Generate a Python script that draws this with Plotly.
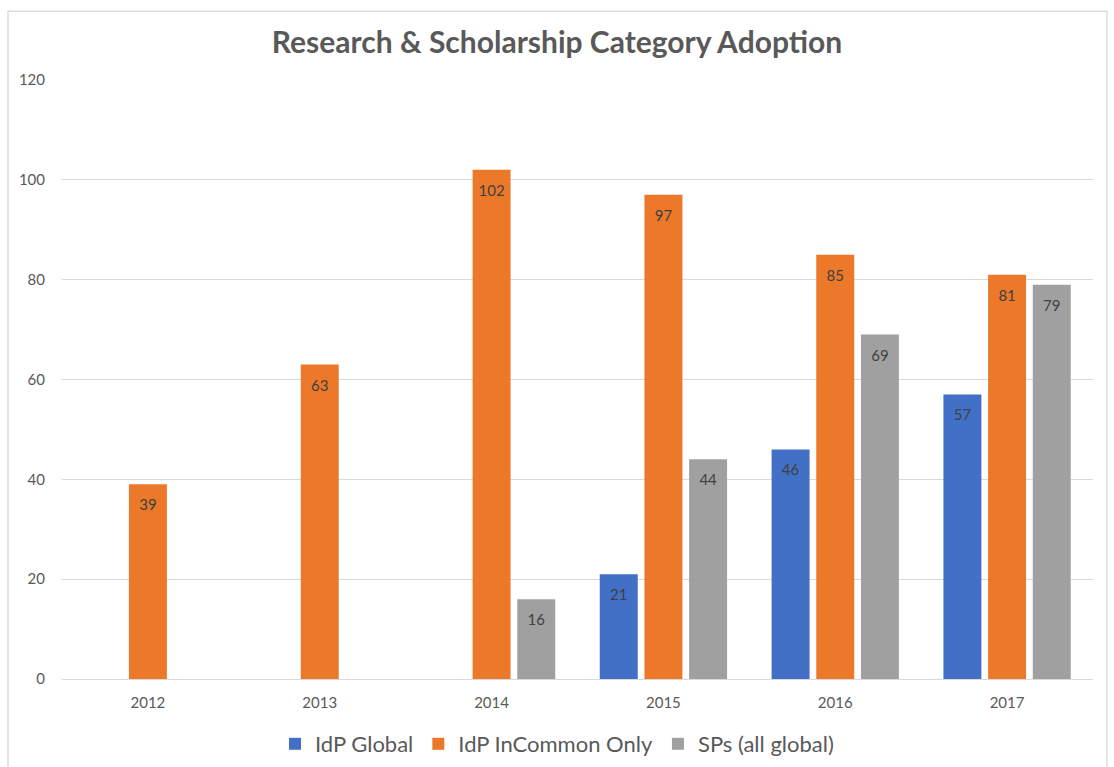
import plotly.graph_objects as go

years = ["2012", "2013", "2014", "2015", "2016", "2017"]
idp_global = [None, None, None, 21, 46, 57]
idp_incommon = [39, 63, 102, 97, 85, 81]
sps_global = [None, None, 16, 44, 69, 79]

series = [
    ("IdP Global", idp_global, "#4270C6"),
    ("IdP InCommon Only", idp_incommon, "#EC7829"),
    ("SPs (all global)", sps_global, "#A0A0A0"),
]

fig = go.Figure()
for name, vals, col in series:
    fig.add_trace(go.Bar(
        x=years, y=vals, name=name,
        marker=dict(color=col, line=dict(width=0)),
    ))
for name, vals, col in series:
    fig.add_trace(go.Scatter(
        x=years, y=vals, name=name, mode="markers+text", showlegend=False,
        marker=dict(size=22, color="rgba(0,0,0,0)"),
        text=[("" if v is None else str(v)) for v in vals],
        textposition="bottom center",
        textfont=dict(family="Lato", size=15, color="#404040"),
        hoverinfo="skip", cliponaxis=False,
    ))

W, H = 1114, 767
l, r, t, b = 62, 21, 79, 86
pw, ph = W - l - r, H - t - b
ymax = 120.2

def px(x):
    return (x - l) / pw

def py(y):
    return (H - b - y) / ph

fig.update_layout(
    width=W, height=H,
    margin=dict(l=l, r=r, t=t, b=b),
    paper_bgcolor="white", plot_bgcolor="white",
    barmode="group", bargap=0.22, bargroupgap=0.15,
    scattermode="group", scattergap=0.22,
    title=dict(text="<b>Research & Scholarship Category Adoption</b>",
               x=0.5, xanchor="center", y=1 - 42 / H, yanchor="middle",
               font=dict(family="Lato", size=30, color="#595959")),
    font=dict(family="Lato", color="#595959"),
    xaxis=dict(showgrid=False, showline=True, linecolor="#D9D9D9", linewidth=1,
               ticks="", tickfont=dict(size=15, color="#595959"), ticklabelstandoff=10),
    yaxis=dict(range=[0, ymax], tickvals=[0, 20, 40, 60, 80, 100, 120],
               showgrid=True, gridcolor="#D9D9D9",
               gridwidth=1, zeroline=False, showline=False, ticks="",
               tickfont=dict(size=15, color="#595959"), ticklabelstandoff=16),
    legend=dict(orientation="h", x=0.5, xanchor="center", xref="container",
                y=1 - 744 / H, yanchor="middle", yref="container",
                font=dict(size=22, color="#595959"), traceorder="normal",
                itemwidth=30),
    showlegend=True,
    shapes=[dict(type="rect", xref="paper", yref="paper",
                 x0=px(8), x1=px(1107), y0=py(775), y1=py(11),
                 line=dict(color="#DDDDDD", width=1.5), fillcolor="rgba(0,0,0,0)",
                 layer="below")],
)

fig.write_html("out.html", config={"displayModeBar": False},
               post_script="document.body.style.margin='0';document.body.style.overflow='hidden';")
